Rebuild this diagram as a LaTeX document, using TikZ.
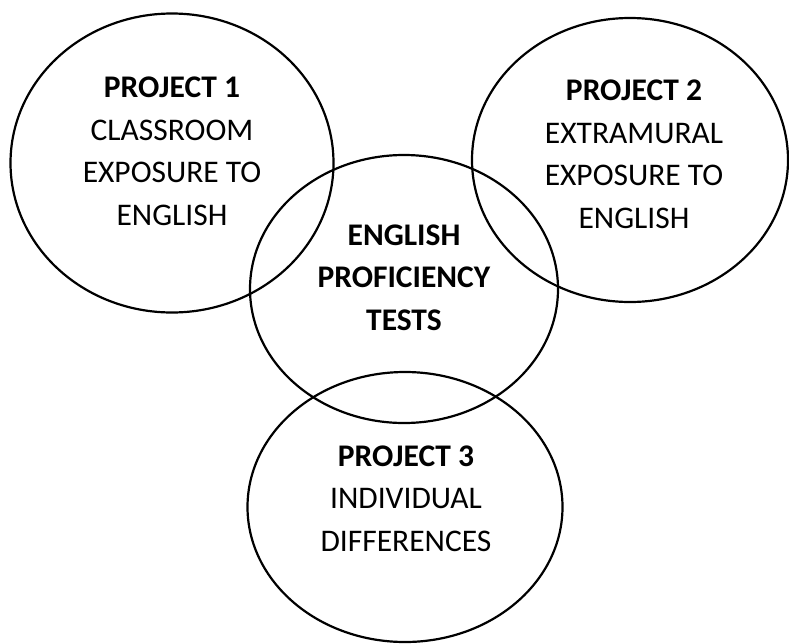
\documentclass[tikz,border=0pt]{standalone}
\usepackage{fontspec}
\setmainfont{Carlito}
\usetikzlibrary{shapes.geometric}
\begin{document}
\begin{tikzpicture}[x=1pt,y=-1pt,
  ring/.style={draw=black, line width=2.2pt, ellipse, inner sep=0pt},
  label/.style={align=center, anchor=base, inner sep=0pt,
    font=\fontsize{31.5}{42.5}\selectfont}]
\useasboundingbox (0,0) rectangle (789,643);
% the four overlapping circles
\node[ring, minimum width=323pt, minimum height=299pt] (p1) at (172,163) {};
\node[ring, minimum width=316pt, minimum height=284pt] (p2) at (630,160) {};
\node[ring, minimum width=308pt, minimum height=268pt] (ept) at (404,289) {};
\node[ring, minimum width=315pt, minimum height=270pt] (p3) at (405,507) {};
% texts, each anchored at the baseline of its last line
\node[label] (t1) at (172,225) {\textbf{PROJECT 1}\\CLASSROOM\\EXPOSURE TO\\ENGLISH};
\node[label] (t2) at (634,228) {\textbf{PROJECT 2}\\EXTRAMURAL\\EXPOSURE TO\\ENGLISH};
\node[label] (tc) at (404,330) {\textbf{ENGLISH}\\\textbf{PROFICIENCY}\\\textbf{TESTS}};
\node[label] (t3) at (406,551) {\textbf{PROJECT 3}\\INDIVIDUAL\\DIFFERENCES};
\end{tikzpicture}
\end{document}
